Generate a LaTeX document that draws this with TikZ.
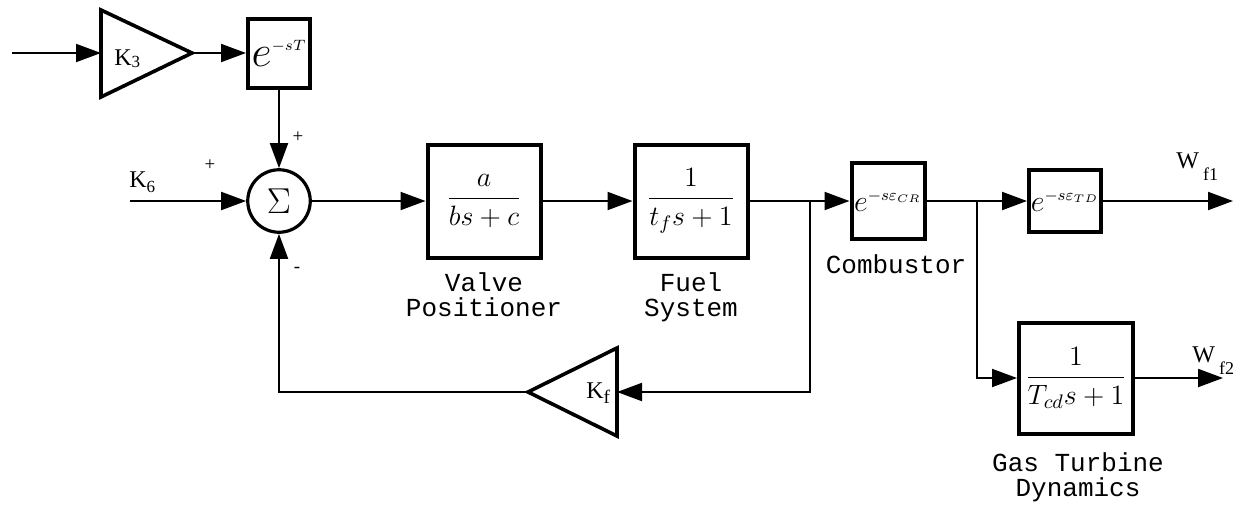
\RequirePackage{fix-cm}
\documentclass[tikz,border=0pt]{standalone}
\usepackage[no-math]{fontspec}
\setmainfont{Liberation Serif}
\setmonofont{Liberation Mono}
\usetikzlibrary{arrows.meta}

% small math set at an explicit size (used for exponents of the delays)
\newcommand\smath[2]{\hbox{\fontsize{#1}{#1}\selectfont$#2$}}
% gain / signal names: roman letter with a lowered small index
\newcommand\gname[3]{K\raisebox{#1}{\fontsize{#2}{#2}\selectfont #3}}
\newcommand\wname[1]{W\,\raisebox{-6pt}{\fontsize{9}{9}\selectfont #1}}

\tikzset{
  wire/.style={line width=1pt},
  arr/.style={wire,-{Triangle[length=12.5pt,width=9pt]}},
  blk/.style={draw,line width=2pt,inner sep=0pt,
              font=\fontsize{14}{17}\selectfont},
  gain/.style={line width=1.8pt,line join=miter},
  sumnode/.style={draw,circle,line width=1.6pt,minimum size=31.25pt,inner sep=0pt,
                  font=\fontsize{18}{20}\selectfont},
  klabel/.style={inner sep=0pt,anchor=base west,font=\fontsize{12}{14}\selectfont},
  sign/.style={inner sep=0pt,font=\fontsize{9.5}{10}\selectfont},
  caption/.style={inner sep=0pt,anchor=north,align=center,
                  font=\ttfamily\fontsize{13}{12.5}\selectfont}
}

\begin{document}
\begin{tikzpicture}[x=0.5pt,y=-0.5pt]
\useasboundingbox (0,0) rectangle (1236,504);

% ---- gains drawn as triangles
\draw[gain] (101,10) -- (192,53) -- (101,97) -- cycle;
\coordinate (k3in) at (101,53);
\coordinate (k3out) at (192,53);
\node[klabel] (k3) at (114,65) {\gname{-1pt}{8.5}{3}};

\draw[gain] (617,348) -- (528,392) -- (617,436) -- cycle;
\coordinate (kfin) at (617,392);
\coordinate (kfout) at (528,392);
\node[klabel] (kf) at (586,398) {\gname{-2.5pt}{9.5}{f}};

% ---- blocks
\node[blk,minimum width=31pt,minimum height=34.5pt] (eT) at (279,53)
  {\fontsize{22}{24}\selectfont$e^{\smath{7.5}{-sT}}$};
\node[sumnode] (sum) at (279,201) {$\Sigma$};
\node[blk,minimum width=56.5pt,minimum height=56.5pt] (valve) at (484,201)
  {$\displaystyle\frac{a}{bs+c}$};
\node[blk,minimum width=56.5pt,minimum height=56.5pt] (fuel) at (691,201)
  {$\displaystyle\frac{1}{t_{f}s+1}$};
\node[blk,minimum width=36.5pt,minimum height=38pt] (comb) at (888,201)
  {\fontsize{15}{18}\selectfont$e^{\smath{8}{-s\varepsilon_{\smath{5.5}{CR}}}}$};
\node[blk,minimum width=36pt,minimum height=31pt] (td) at (1065,201)
  {\fontsize{15}{18}\selectfont$e^{\smath{8}{-s\varepsilon_{\smath{5.5}{TD}}}}$};
\node[blk,minimum width=57pt,minimum height=55.5pt] (gt) at (1076,378)
  {$\displaystyle\frac{1}{T_{cd}s+1}$};

% ---- captions
\node[caption] (cvalve) at (484,272) {Valve\\Positioner};
\node[caption] (cfuel) at (691,272) {Fuel\\System};
\node[caption] (ccomb) at (896,254) {Combustor};
\node[caption] (cgt) at (1078,452) {Gas Turbine\\Dynamics};

% ---- signal names and signs
\node[klabel] (k6) at (129,187) {\gname{-2.5pt}{8.5}{6}};
\node[klabel] (w1) at (1176,168) {\wname{f1}};
\node[klabel] (w2) at (1192,362) {\wname{f2}};
\node[sign] (ptop) at (298,137) {+};
\node[sign] (pleft) at (210,165) {+};
\node[sign] (mbot) at (297,270) {-};

% ---- free ends and branch points
\coordinate (in3) at (12,53);
\coordinate (k6in) at (130,201);
\coordinate (j1) at (810,201);
\coordinate (j2) at (977,201);
\coordinate (out1) at (1233,201);
\coordinate (out2) at (1223,378);

% ---- connectors
\draw[arr] (in3) -- (k3in);
\draw[arr] (k3out) -- (eT);
\draw[arr] (eT) -- (sum);
\draw[arr] (k6in) -- (sum);
\draw[arr] (sum) -- (valve);
\draw[arr] (valve) -- (fuel);
\draw[wire] (fuel) -- (j1);
\draw[arr] (j1) -- (comb);
\draw[wire] (comb) -- (j2);
\draw[arr] (j2) -- (td);
\draw[arr] (td) -- (out1);
\draw[arr] (j1) |- (kfin);
\draw[arr] (kfout) -| (sum);
\draw[arr] (j2) |- (gt);
\draw[arr] (gt) -- (out2);
\end{tikzpicture}
\end{document}
